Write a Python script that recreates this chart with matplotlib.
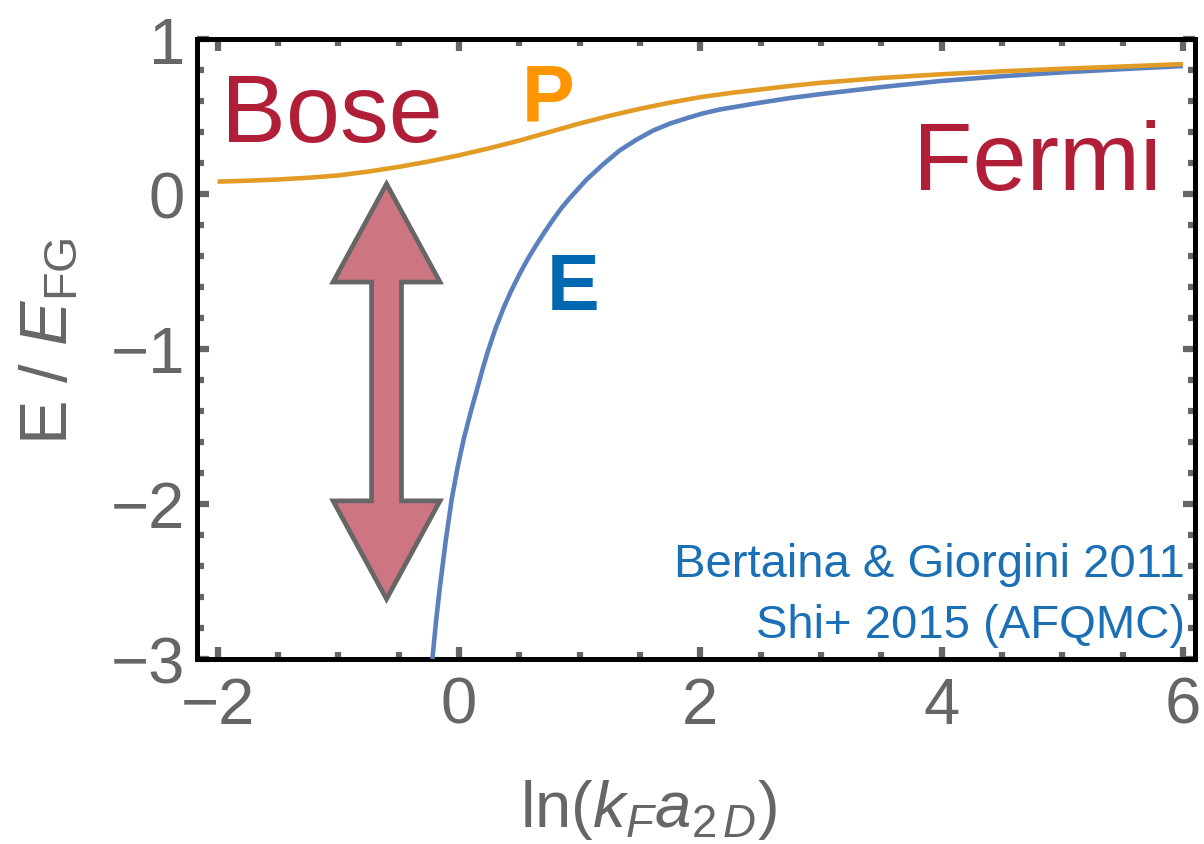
import numpy as np
import matplotlib
matplotlib.use("Agg")
import matplotlib.pyplot as plt
from matplotlib.patches import Polygon
from matplotlib.ticker import MultipleLocator

# ---------------- data ----------------
e_x = [-0.22, -0.19, -0.16, -0.11, -0.06, -0.01, 0.04, 0.10, 0.15, 0.20, 0.24,
       0.30, 0.37, 0.43, 0.50, 0.57, 0.64, 0.71, 0.78, 0.85, 0.92, 1.06, 1.20,
       1.33, 1.47, 1.61, 1.75, 1.89, 2.02, 2.16, 2.50, 2.75, 3.00, 3.50, 4.00,
       4.50, 5.00, 5.50, 6.00]
e_y = [-3.00, -2.76, -2.55, -2.24, -1.97, -1.76, -1.58, -1.40, -1.26, -1.12, -1.015,
       -0.875, -0.735, -0.63, -0.52, -0.42, -0.33, -0.245, -0.165, -0.09, -0.025, 0.095, 0.195,
       0.28, 0.35, 0.41, 0.455, 0.49, 0.52, 0.545, 0.59, 0.62, 0.645, 0.69, 0.73,
       0.76, 0.785, 0.806, 0.826]

p_x = [-2.00, -1.75, -1.50, -1.25, -1.00, -0.75, -0.50, -0.25, 0.00, 0.25, 0.50,
       0.75, 1.00, 1.25, 1.50, 1.75, 2.00, 2.25, 2.50, 2.75, 3.00, 3.50, 4.00,
       4.50, 5.00, 5.50, 6.00]
p_y = [0.080, 0.086, 0.094, 0.105, 0.120, 0.145, 0.175, 0.210, 0.250, 0.295, 0.345,
       0.400, 0.455, 0.505, 0.550, 0.590, 0.625, 0.652, 0.675, 0.698, 0.718, 0.749, 0.773,
       0.792, 0.808, 0.823, 0.838]

x_ticks = [-2, 0, 2, 4, 6]
y_ticks = [-3, -2, -1, 0, 1]

# ---------------- style ----------------
FONT = "Liberation Sans"
plt.rcParams["font.family"] = [FONT, "DejaVu Sans"]
plt.rcParams["mathtext.fontset"] = "custom"
plt.rcParams["mathtext.rm"] = FONT
plt.rcParams["mathtext.it"] = FONT + ":italic"
plt.rcParams["mathtext.bf"] = FONT + ":bold"

GRAY = "#666666"
BLUE_LINE = "#5B80BE"
ORANGE_LINE = "#E29C25"
CRIMSON = "#B01E38"
BLUE_TXT = "#1A6FB5"

fig = plt.figure(figsize=(12.04, 8.45), dpi=100)
ax = fig.add_axes([0.164, 0.219, 0.8285, 0.7336])

ax.plot(e_x, e_y, color=BLUE_LINE, lw=3.3, solid_joinstyle="round",
        solid_capstyle="butt", zorder=3)
ax.plot(p_x, p_y, color=ORANGE_LINE, lw=3.3, solid_joinstyle="round",
        solid_capstyle="butt", zorder=3)

ax.set_xlim(-2.167, 6.10)
ax.set_ylim(-3.0, 1.0)

ax.set_xticks(x_ticks)
ax.set_yticks(y_ticks)
ax.xaxis.set_minor_locator(MultipleLocator(0.5))
ax.yaxis.set_minor_locator(MultipleLocator(0.2))
ax.tick_params(which="both", direction="in", top=True, right=True,
               color=GRAY, labelcolor=GRAY, labelsize=47)
ax.tick_params(which="major", length=8.5, width=4.5, pad=9)
ax.tick_params(which="minor", length=5, width=4.5)
ax.tick_params(axis="x", which="major", pad=12)

for s in ax.spines.values():
    s.set_color("black")
    s.set_linewidth(3.6)

ax.set_xlabel(r"$\mathrm{ln}(k_F a_{2\,D})$", fontsize=47, color=GRAY)
ax.set_ylabel(r"$\mathrm{E\ /\ }E_{\mathrm{FG}}$", fontsize=48, color=GRAY)
ax.xaxis.set_label_coords(0.452, -0.19)
ax.yaxis.set_label_coords(-0.117, 0.515)

# ---------------- annotations ----------------
ax.text(-1.97, 0.342, "Bose", fontsize=70, color=CRIMSON, ha="left", va="baseline")
ax.text(3.76, 0.032, "Fermi", fontsize=70, color=CRIMSON, ha="left", va="baseline")
ax.text(0.52, 0.484, "P", fontsize=57, color="#FF9500", fontweight="bold",
        ha="left", va="baseline")
ax.text(0.73, -0.742, "E", fontsize=57, color="#0068B0", fontweight="bold",
        ha="left", va="baseline")
ax.text(6.015, -2.465, "Bertaina & Giorgini 2011", fontsize=34, color=BLUE_TXT,
        ha="right", va="baseline")
ax.text(6.015, -2.858, "Shi+ 2015 (AFQMC)", fontsize=34, color=BLUE_TXT,
        ha="right", va="baseline")

# double-headed arrow
arrow_x, arrow_top, arrow_bot = -0.60, 0.065, -2.613
head_len, head_half, shaft_half = 0.633, 0.443, 0.124
verts = [
    (arrow_x, arrow_top),
    (arrow_x + head_half, arrow_top - head_len),
    (arrow_x + shaft_half, arrow_top - head_len),
    (arrow_x + shaft_half, arrow_bot + head_len),
    (arrow_x + head_half, arrow_bot + head_len),
    (arrow_x, arrow_bot),
    (arrow_x - head_half, arrow_bot + head_len),
    (arrow_x - shaft_half, arrow_bot + head_len),
    (arrow_x - shaft_half, arrow_top - head_len),
    (arrow_x - head_half, arrow_top - head_len),
]
ax.add_patch(Polygon(verts, closed=True, facecolor="#CD7681", edgecolor=GRAY,
                     lw=3.4, joinstyle="miter", zorder=4))

fig.savefig("out.png", dpi=100)
